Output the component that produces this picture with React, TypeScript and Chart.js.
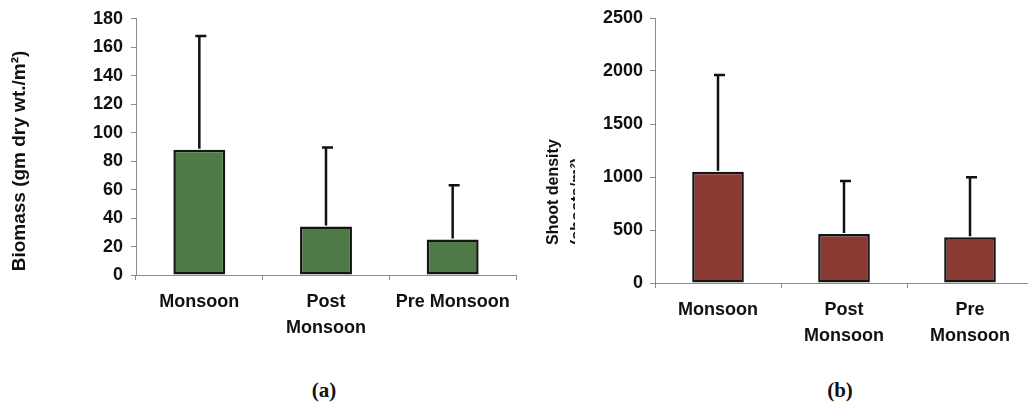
import React, { useEffect, useRef } from "react";
import { Chart, registerables } from "chart.js";

Chart.register(...registerables);

// ---- data ----
const categoriesA: (string | string[])[] = ["Monsoon", ["Post", "Monsoon"], "Pre Monsoon"];
const biomass: number[] = [88, 34, 25];
const biomassSD: number[] = [80, 55.5, 38];
const biomassTicks: number[] = [0, 20, 40, 60, 80, 100, 120, 140, 160, 180];

const categoriesB: (string | string[])[] = ["Monsoon", ["Post", "Monsoon"], ["Pre", "Monsoon"]];
const shootDensity: number[] = [1050, 462, 431];
const shootSD: number[] = [912, 500, 566];
const shootTicks: number[] = [0, 500, 1000, 1500, 2000, 2500];

const FONT = "'Liberation Sans', Arial, Helvetica, sans-serif";

const errorBarPlugin = {
  id: "errorBars",
  afterDatasetsDraw(chart: any, _args: any, opts: any) {
    const ctx = chart.ctx;
    const meta = chart.getDatasetMeta(0);
    const yScale = chart.scales.y;
    const vals = chart.data.datasets[0].data as number[];
    const errs: number[] = opts.errors || [];
    ctx.save();
    ctx.strokeStyle = "#111";
    ctx.lineWidth = 2.5;
    meta.data.forEach((bar: any, i: number) => {
      const x = bar.x;
      const yTop = yScale.getPixelForValue(vals[i]);
      const yErr = yScale.getPixelForValue(vals[i] + errs[i]);
      ctx.beginPath();
      ctx.moveTo(x, yTop - 1);
      ctx.lineTo(x, yErr);
      ctx.moveTo(x - 4, yErr);
      ctx.lineTo(x + 7, yErr);
      ctx.stroke();
    });
    ctx.restore();
  },
};

const yTitlePlugin = {
  id: "yTitle",
  afterDraw(chart: any, _args: any, opts: any) {
    const ctx = chart.ctx;
    (opts.lines || []).forEach((ln: any) => {
      ctx.save();
      if (ln.clipRight !== undefined) {
        ctx.beginPath();
        ctx.rect(0, 0, ln.clipRight, chart.height);
        ctx.clip();
      }
      ctx.translate(ln.x, ln.y);
      ctx.rotate(-Math.PI / 2);
      ctx.font = ln.font;
      ctx.fillStyle = "#111";
      ctx.textAlign = ln.align || "center";
      ctx.textBaseline = "middle";
      ctx.fillText(ln.text, 0, 0);
      ctx.restore();
    });
  },
};

function makeConfig(
  labels: (string | string[])[],
  values: number[],
  errors: number[],
  ticks: number[],
  color: string,
  dims: { axisW: number; xAxisH: number; top: number; right: number; yPad: number; xPad: number },
  titleLines: any[]
): any {
  return {
    type: "bar",
    data: {
      labels,
      datasets: [
        {
          data: values,
          backgroundColor: color,
          borderColor: "#151515",
          borderWidth: 2.5,
          borderSkipped: false,
          categoryPercentage: 1,
          barPercentage: 0.41,
        },
      ],
    },
    plugins: [errorBarPlugin, yTitlePlugin],
    options: {
      animation: false,
      responsive: false,
      maintainAspectRatio: false,
      layout: { padding: { top: dims.top, right: dims.right, left: 0, bottom: 0 } },
      plugins: {
        legend: { display: false },
        tooltip: { enabled: false },
        errorBars: { errors },
        yTitle: { lines: titleLines },
      },
      scales: {
        x: {
          afterFit: (s: any) => {
            s.height = dims.xAxisH;
          },
          grid: {
            display: true,
            drawOnChartArea: false,
            drawTicks: true,
            tickLength: 5,
            color: "#8c8c8c",
            offset: true,
          },
          border: { display: true, color: "#8c8c8c", width: 1 },
          ticks: {
            autoSkip: false,
            maxRotation: 0,
            minRotation: 0,
            padding: dims.xPad,
            color: "#111",
            font: { family: FONT, size: 18, weight: "bold", lineHeight: 1.45 },
          },
        },
        y: {
          min: ticks[0],
          max: ticks[ticks.length - 1],
          afterFit: (s: any) => {
            s.width = dims.axisW;
          },
          afterBuildTicks: (s: any) => {
            s.ticks = ticks.map((v) => ({ value: v }));
          },
          grid: {
            display: true,
            drawOnChartArea: false,
            drawTicks: true,
            tickLength: 5,
            color: "#8c8c8c",
          },
          border: { display: true, color: "#8c8c8c", width: 1 },
          ticks: {
            padding: dims.yPad,
            color: "#111",
            font: { family: FONT, size: 18, weight: "bold" },
            callback: (v: any) => String(v),
          },
        },
      },
    },
  };
}

function BarPanel(props: { config: any; width: number; height: number; left: number }) {
  const ref = useRef<HTMLCanvasElement | null>(null);
  useEffect(() => {
    if (!ref.current) return;
    const chart = new Chart(ref.current, props.config);
    return () => chart.destroy();
  }, []);
  return (
    <canvas
      ref={ref}
      width={props.width}
      height={props.height}
      style={{ position: "absolute", left: props.left, top: 0, width: props.width, height: props.height }}
    />
  );
}

export default function App() {
  const configA = makeConfig(
    categoriesA,
    biomass,
    biomassSD,
    biomassTicks,
    "#4e7a45",
    { axisW: 136, xAxisH: 85, top: 17, right: 4, yPad: 8, xPad: 9 },
    [{ text: "Biomass (gm dry wt./m²)", x: 20, y: 161, font: `bold 19px ${FONT}`, align: "center" }]
  );
  const configB = makeConfig(
    categoriesB,
    shootDensity,
    shootSD,
    shootTicks,
    "#8b3a34",
    { axisW: 135, xAxisH: 77, top: 18, right: 7, yPad: 7, xPad: 9 },
    [
      { text: "Shoot density", x: 33.5, y: 245, font: `bold 16px ${FONT}`, align: "left" },
      { text: "(shoots/m²)", x: 57.5, y: 245, font: `bold 16px ${FONT}`, align: "left", clipRight: 55 },
    ]
  );
  const capStyle: React.CSSProperties = {
    position: "absolute",
    top: 380,
    width: 100,
    textAlign: "center",
    fontFamily: "'Liberation Serif', 'Times New Roman', serif",
    fontWeight: "bold",
    fontSize: 21,
    lineHeight: 1,
    color: "#111",
  };
  return (
    <div
      style={{
        position: "fixed",
        left: 0,
        top: 0,
        width: 1028,
        height: 410,
        overflow: "hidden",
        background: "#fff",
      }}
    >
      <BarPanel config={configA} width={520} height={360} left={0} />
      <BarPanel config={configB} width={520} height={360} left={520} />
      <div style={{ ...capStyle, left: 274 }}>(a)</div>
      <div style={{ ...capStyle, left: 790 }}>(b)</div>
    </div>
  );
}
